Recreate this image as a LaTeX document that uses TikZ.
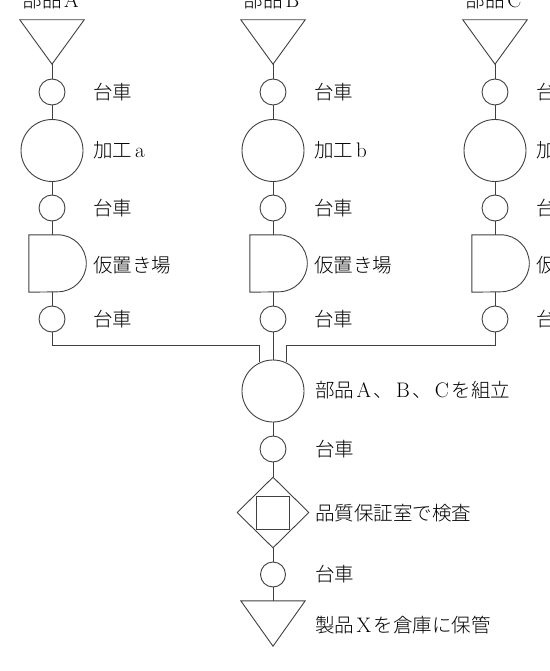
\documentclass[tikz,border=0pt]{standalone}
\usepackage{fontspec}
\newfontfamily\cjk{Noto Sans CJK JP Light}
\newcommand\latn[1]{{\rmfamily\fontsize{21}{23}\selectfont #1}}
\newcommand\fwl[1]{\makebox[19.5pt]{\latn{#1}}}
\usepackage{tikz}
\usetikzlibrary{shapes.geometric}
\tikzstyle{flow} = [draw=black!75, line width=0.9pt]
\tikzstyle{cart} = [circle,flow,minimum size=26pt,inner sep=0]
\tikzstyle{proc} = [circle,flow,minimum size=62pt,inner sep=0]
\tikzstyle{box}  = [inner sep=0, minimum width=64pt]
\tikzstyle{hold} = [inner sep=0, minimum width=46pt, minimum height=57pt]
\tikzstyle{note} = [anchor=west, inner sep=0, font=\cjk\fontsize{19.5}{23}\selectfont]

\begin{document}
\begin{tikzpicture}[x=1pt, y=-1pt]
\useasboundingbox (0,0) rectangle (549,671);
\clip (0,0) rectangle (549,671);

\foreach \col/\x/\p in {A/52/a, B/273/b, C/495/c}{
    \node[note, anchor=base] (part\col) at (\x,8) {部品\fwl{\col}};
    \node[box, minimum height=44pt] (src\col) at (\x,42) {};
    \draw[flow] (src\col.north west) -- (src\col.north east) -- (src\col.south) -- cycle;
    \node[cart] (cart\col1) at (\x,92) {};
    \node[proc] (proc\col) at (\x,150.5) {};
    \node[cart] (cart\col2) at (\x,208) {};
    \node[hold] (store\col) at (\x,263.5) {};
    \draw[flow] (store\col.north west) -- ++(29,0) arc[start angle=-90, end angle=90, radius=28.5] -- (store\col.south west) -- cycle;
    \node[cart] (cart\col3) at (\x,319) {};
    \draw[flow] (src\col.south) -- (cart\col1) -- (proc\col) -- (cart\col2) -- (store\col.north);
    \draw[flow] (store\col.south) -- (cart\col3);

    \node[note] (t\col1) at (\x+41,92) {台車};
    \node[note] (t\col2) at (\x+41,150) {加工\hspace{3pt}\latn{\p}};
    \node[note] (t\col3) at (\x+41,208) {台車};
    \node[note] (t\col4) at (\x+41,265) {仮置き場};
    \node[note] (t\col5) at (\x+41,319) {台車};
}

\node[proc] (asm) at (273,391) {};
\node[cart] (cartD1) at (273,449) {};
\node[diamond, flow, inner sep=0, minimum width=72pt, minimum height=71pt] (qc) at (273,512.5) {};
\node[flow, inner sep=0, minimum size=33pt] (qcbox) at (qc) {};
\node[cart, minimum size=25pt] (cartD2) at (273,574.5) {};
\node[box, minimum height=45pt] (goal) at (273,623.5) {};
\draw[flow] (goal.north west) -- (goal.north east) -- (goal.south) -- cycle;

\draw[flow] (cartB3) -- (asm);
\draw[flow] (cartA3.south) -- ++(0,13) -| (asm.115);
\draw[flow] (cartC3.south) -- ++(0,13) -| (asm.65);
\draw[flow] (asm) -- (cartD1) -- (qc) -- (cartD2) -- (goal.north);

\node[note] (tasm) at (315,390) {部品\fwl{A}、\fwl{B}、\fwl{C}を組立};
\node[note] (tD1) at (315,449) {台車};
\node[note] (tqc) at (315,513) {品質保証室で検査};
\node[note] (tD2) at (315,574) {台車};
\node[note] (tgoal) at (315,625) {製品\fwl{X}を倉庫に保管};
\end{tikzpicture}
\end{document}
